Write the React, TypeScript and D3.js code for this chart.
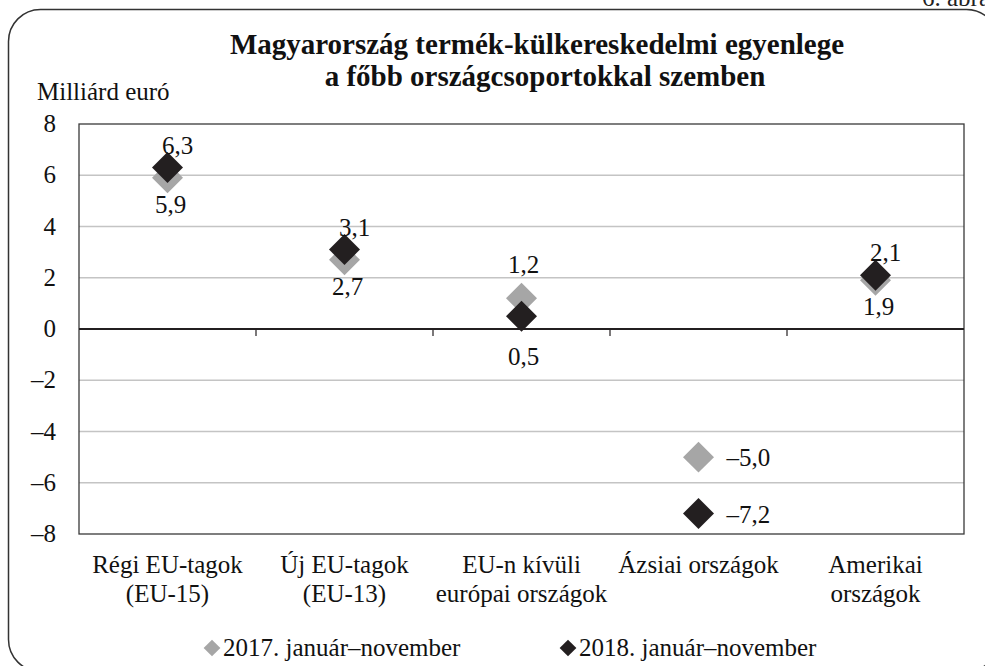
import React from "react";
import * as d3 from "d3";

const categories: string[][] = [
  ["Régi EU-tagok", "(EU-15)"],
  ["Új EU-tagok", "(EU-13)"],
  ["EU-n kívüli", "európai országok"],
  ["Ázsiai országok"],
  ["Amerikai", "országok"],
];
const values2017 = [5.9, 2.7, 1.2, -5.0, 1.9];
const values2018 = [6.3, 3.1, 0.5, -7.2, 2.1];
const labelPos2017 = ["below", "below", "above", "right", "below"];
const labelPos2018 = ["above", "above", "below", "right", "above"];
const yTicks = [8, 6, 4, 2, 0, -2, -4, -6, -8];
const seriesNames = ["2017. január–november", "2018. január–november"];

const title1 = "Magyarország termék-külkereskedelmi egyenlege";
const title2 = "a főbb országcsoportokkal szemben";
const yUnit = "Milliárd euró";
const figNo = "6. ábra";

const GRAY = "#a6a6a6";
const BLACK = "#231f20";
const FONT = '"Liberation Serif", "Times New Roman", Times, serif';
const FS = 25;

const fmt = (v: number) => {
  const s = Math.abs(v).toFixed(1).replace(".", ",");
  return v < 0 ? "–" + s : s;
};
const fmtTick = (v: number) => (v < 0 ? "–" + Math.abs(v) : String(v));

const T = (props: any) => <text {...props} style={{ fontFamily: FONT }} />;

export default function App() {
  const W = 985;
  const H = 666;
  const plot = { left: 79, right: 964, top: 124, bottom: 534 };
  const idx = categories.map((_, i) => i);
  const x = d3.scaleBand<number>().domain(idx).range([plot.left, plot.right]);
  const y = d3.scaleLinear().domain([-8, 8]).range([plot.bottom, plot.top]);
  const cx = (i: number) => (x(i) as number) + x.bandwidth() / 2;

  const bigDiamond = d3.symbol().type(d3.symbolSquare).size(480)() as string;
  const smallDiamond = d3.symbol().type(d3.symbolSquare).size(140)() as string;

  const series = [
    { name: seriesNames[0], values: values2017, pos: labelPos2017, color: GRAY, above: -25, below: 35, dxA: 2, dxB: 3 },
    { name: seriesNames[1], values: values2018, pos: labelPos2018, color: BLACK, above: -14, below: 49, dxA: 10, dxB: 2 },
  ];

  const boundaries = d3.range(1, categories.length).map((i) => x(i) as number);

  return (
    <svg
      width={W}
      height={H}
      style={{ position: "absolute", left: 0, top: 0, display: "block", background: "#fff", fontFamily: FONT }}
    >
      <rect x={0} y={0} width={W} height={H} fill="#fff" />
      <T x={922} y={6} fontSize={FS} fill="#222">{figNo}</T>
      <rect x={8.5} y={9.5} width={990} height={662} rx={32} ry={32} fill="none" stroke="#333" strokeWidth={1.5} />

      <T x={537} y={54} fontSize={29} fontWeight="bold" textAnchor="middle" fill="#111">{title1}</T>
      <T x={545} y={86} fontSize={29} fontWeight="bold" textAnchor="middle" fill="#111">{title2}</T>

      <T x={37} y={100} fontSize={FS} fill="#111">{yUnit}</T>

      {yTicks
        .filter((t) => t !== 0 && t !== 8 && t !== -8)
        .map((t) => (
          <line key={"g" + t} x1={plot.left} x2={plot.right} y1={y(t)} y2={y(t)} stroke="#c4c4c4" strokeWidth={1.6} />
        ))}

      <rect
        x={plot.left}
        y={plot.top}
        width={plot.right - plot.left}
        height={plot.bottom - plot.top}
        fill="none"
        stroke="#3a3a3a"
        strokeWidth={1.3}
      />

      <line x1={plot.left} x2={plot.right} y1={y(0)} y2={y(0)} stroke={BLACK} strokeWidth={2.2} />
      {boundaries.map((b, i) => (
        <line key={"t" + i} x1={b} x2={b} y1={y(0)} y2={y(0) + 7} stroke={BLACK} strokeWidth={1.2} />
      ))}

      {yTicks.map((t) => (
        <T key={"yl" + t} x={56} y={y(t) + 8} fontSize={FS} textAnchor="end" fill="#111">
          {fmtTick(t)}
        </T>
      ))}

      {categories.map((lines, i) => (
        <T key={"c" + i} x={cx(i)} y={573} fontSize={FS} textAnchor="middle" fill="#111">
          {lines.map((l, j) => (
            <tspan key={j} x={cx(i)} dy={j === 0 ? 0 : 29}>
              {l}
            </tspan>
          ))}
        </T>
      ))}

      {series.map((s, si) => (
        <g key={"s" + si}>
          {s.values.map((v, i) => (
            <path
              key={i}
              d={bigDiamond}
              transform={`translate(${cx(i)},${y(v)}) rotate(45)`}
              fill={s.color}
            />
          ))}
        </g>
      ))}

      {series.map((s, si) => (
        <g key={"l" + si}>
          {s.values.map((v, i) => {
            const p = s.pos[i];
            let tx = cx(i);
            let ty = y(v);
            let anchor: "middle" | "start" = "middle";
            if (p === "above") {
              tx += s.dxA;
              ty += s.above;
            } else if (p === "below") {
              tx += s.dxB;
              ty += s.below;
            } else {
              tx += 28;
              ty += 9;
              anchor = "start";
            }
            return (
              <T key={i} x={tx} y={ty} fontSize={FS} textAnchor={anchor} fill="#111">
                {fmt(v)}
              </T>
            );
          })}
        </g>
      ))}

      {series.map((s, si) => {
        const lx = si === 0 ? 212 : 568;
        return (
          <g key={"lg" + si}>
            <path d={smallDiamond} transform={`translate(${lx},648) rotate(45)`} fill={s.color} />
            <T x={lx + 11} y={656} fontSize={FS} fill="#111">
              {s.name}
            </T>
          </g>
        );
      })}
    </svg>
  );
}
